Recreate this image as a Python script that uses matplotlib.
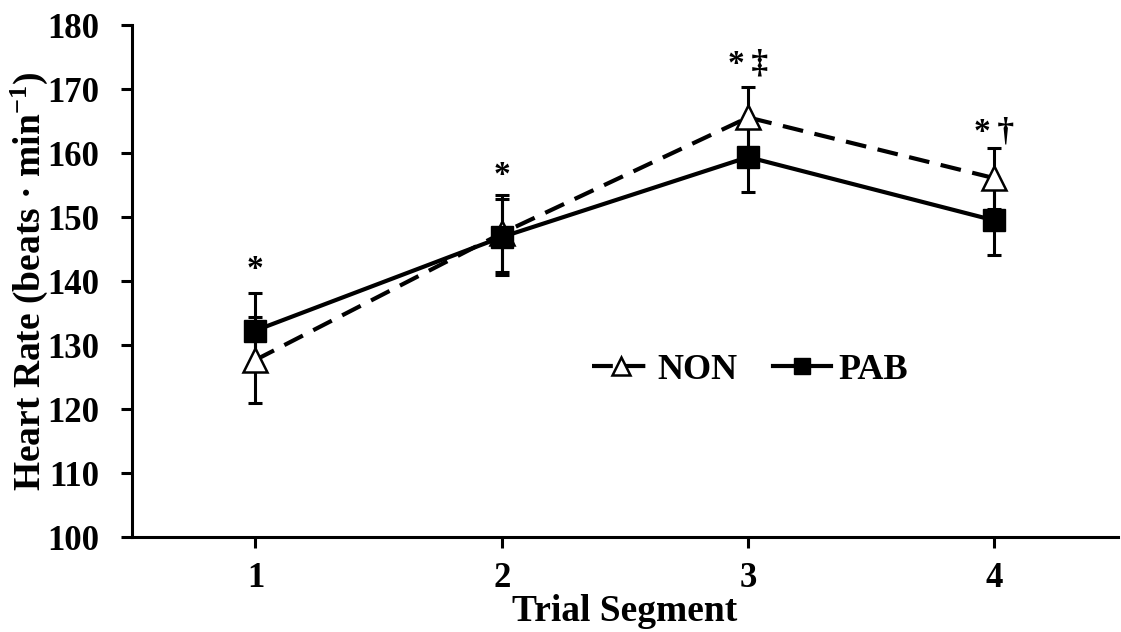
import matplotlib.pyplot as plt

plt.rcParams['font.family'] = ['Liberation Serif', 'DejaVu Serif']
plt.rcParams['font.weight'] = 'bold'
plt.rcParams['mathtext.fontset'] = 'custom'
plt.rcParams['mathtext.rm'] = 'Liberation Serif:bold'
plt.rcParams['mathtext.bf'] = 'Liberation Serif:bold'
plt.rcParams['mathtext.it'] = 'Liberation Serif:bold'

segments = [1, 2, 3, 4]
non_mean = [127.7, 147.5, 165.6, 156.1]
non_sd = [6.7, 6.0, 4.7, 4.8]
pab_mean = [132.3, 146.9, 159.4, 149.5]
pab_sd = [5.8, 6.0, 5.5, 5.4]
marks = ['*', '*', '*\u2009\u2021', '*\u2009\u2020']
mark_y = [141.8, 156.6, 174.0, 163.3]

fig = plt.figure(figsize=(11.21, 6.32), dpi=100)
ax = fig.add_axes([0.118, 0.150, 0.879, 0.810])

ax.errorbar(segments, non_mean, yerr=non_sd, fmt='none', ecolor='black',
            elinewidth=2.2, capsize=5, capthick=2.2, zorder=2)
ax.errorbar(segments, pab_mean, yerr=pab_sd, fmt='none', ecolor='black',
            elinewidth=2.2, capsize=5, capthick=2.2, zorder=2)

ax.plot(segments, non_mean, linestyle=(0, (5, 2.8)), color='black', linewidth=3,
        marker='^', markersize=17, markerfacecolor='white', markeredgecolor='black',
        markeredgewidth=1.8, label='NON', zorder=3)
ax.plot(segments, pab_mean, linestyle='-', color='black', linewidth=3,
        marker='s', markersize=16, markerfacecolor='black', markeredgecolor='black',
        label='PAB', zorder=4)

for x, y, m in zip(segments, mark_y, marks):
    ax.text(x, y, m, ha='center', va='center', fontsize=24, fontweight='bold')

ax.set_xlim(0.5, 4.5)
ax.set_ylim(100, 180)
ax.set_xticks(segments)
ax.set_yticks(range(100, 181, 10))
ax.tick_params(axis='both', labelsize=25, width=2.2, length=8, direction='out')
ax.tick_params(axis='x', pad=10)
ax.tick_params(axis='y', pad=16)
for s in ['top', 'right']:
    ax.spines[s].set_visible(False)
for s in ['left', 'bottom']:
    ax.spines[s].set_linewidth(2.2)

ax.set_xlabel('Trial Segment', fontsize=27, fontweight='bold', labelpad=-1)
ax.set_ylabel('Heart Rate (beats \u00b7 min$^{-1}$)', fontsize=27,
              fontweight='bold', labelpad=-2)

ax.legend(loc='center', bbox_to_anchor=(0.627, 0.326), frameon=False, ncol=2,
          handlelength=1.6, columnspacing=1.0, handletextpad=0.2,
          markerscale=0.75, prop={'weight': 'bold', 'size': 26})

fig.savefig('out.png', dpi=100)
